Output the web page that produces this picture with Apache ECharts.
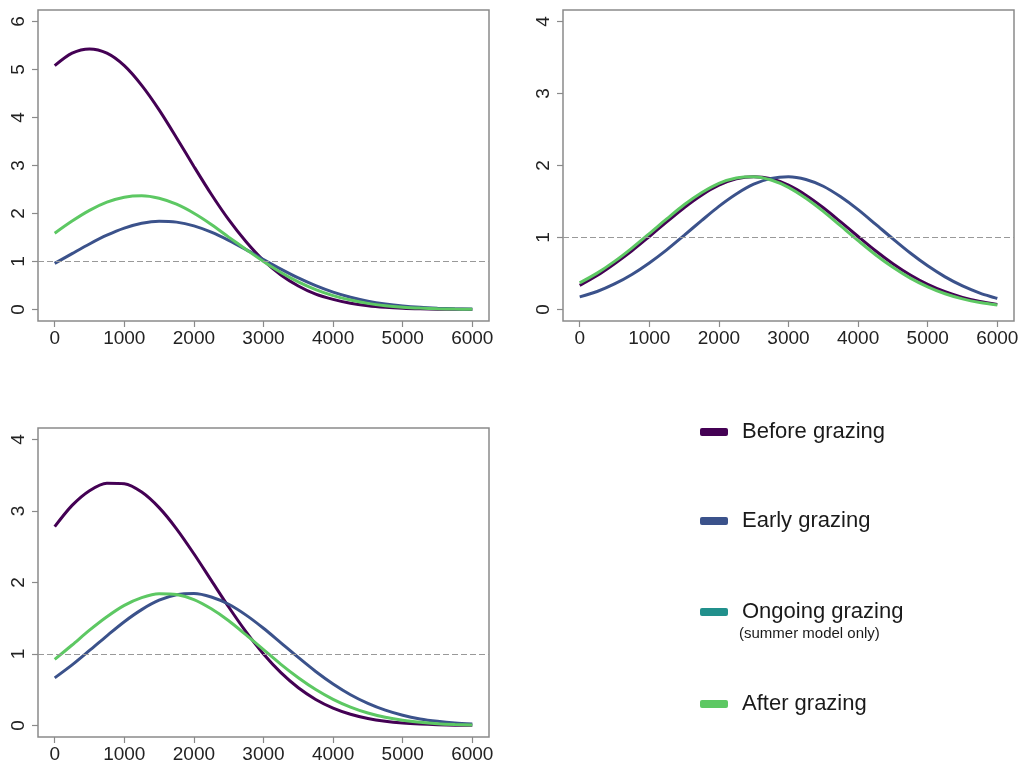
<!DOCTYPE html>
<html>
<head>
<meta charset="utf-8">
<script src="https://cdn.jsdelivr.net/npm/echarts@6/dist/echarts.min.js"></script>
<style>
html,body{margin:0;padding:0;background:#fff;}
#chart{width:1022px;height:764px;}
</style>
</head>
<body>
<div id="chart"></div>
<script>
// ---- data ----
const xValues = [0, 250, 500, 750, 1000, 1250, 1500, 1750, 2000, 2250, 2500, 2750, 3000,
                 3250, 3500, 3750, 4000, 4250, 4500, 4750, 5000, 5250, 5500, 5750, 6000];
const xTicks = [0, 1000, 2000, 3000, 4000, 5000, 6000];
const yTicksP1 = [0, 1, 2, 3, 4, 5, 6];
const yTicksP23 = [0, 1, 2, 3, 4];
const seriesNames = ['Before grazing', 'Early grazing', 'Ongoing grazing', 'After grazing'];
const seriesColors = ['#440154', '#3B528B', '#21908C', '#5DC863'];
const legendNote = '(summer model only)';
const referenceLevel = 1;

// panel 1 (top-left)
const p1Before = [5.08, 5.34, 5.43, 5.34, 5.08, 4.67, 4.16, 3.58, 2.98, 2.40, 1.87, 1.41, 1.02,
                  0.72, 0.49, 0.32, 0.21, 0.128, 0.076, 0.044, 0.024, 0.013, 0.007, 0.0035, 0.002];
const p1Early  = [0.96, 1.164, 1.365, 1.547, 1.695, 1.796, 1.839, 1.82, 1.742, 1.611, 1.441, 1.246, 1.04,
                  0.841, 0.657, 0.496, 0.362, 0.256, 0.174, 0.115, 0.073, 0.045, 0.027, 0.015, 0.009];
const p1After  = [1.59, 1.843, 2.065, 2.236, 2.34, 2.37, 2.318, 2.193, 2.005, 1.772, 1.508, 1.251, 1.0,
                  0.772, 0.576, 0.415, 0.29, 0.196, 0.127, 0.08, 0.049, 0.029, 0.016, 0.009, 0.005];
// panel 2 (top-right)
const p2Before = [0.335, 0.472, 0.636, 0.816, 1.014, 1.217, 1.414, 1.588, 1.726, 1.815, 1.845, 1.815, 1.726,
                  1.588, 1.414, 1.217, 1.014, 0.816, 0.636, 0.479, 0.349, 0.246, 0.168, 0.111, 0.071];
const p2Early  = [0.175, 0.25, 0.355, 0.487, 0.647, 0.829, 1.03, 1.234, 1.432, 1.604, 1.74, 1.821, 1.845,
                  1.806, 1.712, 1.565, 1.387, 1.185, 0.981, 0.784, 0.606, 0.453, 0.327, 0.228, 0.153];
const p2After  = [0.37, 0.505, 0.668, 0.853, 1.054, 1.258, 1.455, 1.622, 1.753, 1.827, 1.845, 1.798, 1.697,
                  1.545, 1.363, 1.16, 0.957, 0.761, 0.587, 0.436, 0.315, 0.218, 0.147, 0.096, 0.062];
// panel 3 (bottom-left)
const p3Before = [2.78, 3.078, 3.284, 3.389, 3.382, 3.265, 3.047, 2.751, 2.402, 2.029, 1.657, 1.309, 1.0,
                  0.739, 0.528, 0.365, 0.244, 0.158, 0.099, 0.06, 0.035, 0.02, 0.011, 0.006, 0.003];
const p3Early  = [0.667, 0.848, 1.05, 1.255, 1.452, 1.621, 1.752, 1.828, 1.846, 1.798, 1.696, 1.544, 1.36,
                  1.157, 0.952, 0.756, 0.581, 0.431, 0.31, 0.215, 0.144, 0.093, 0.059, 0.035, 0.021];
const p3After  = [0.925, 1.126, 1.333, 1.521, 1.68, 1.789, 1.843, 1.831, 1.761, 1.632, 1.465, 1.267, 1.061,
                  0.856, 0.669, 0.504, 0.367, 0.258, 0.175, 0.115, 0.073, 0.045, 0.026, 0.015, 0.008];

// ---- chart ----
const FONT = '"Liberation Sans", Arial, sans-serif';
const BOX = '#8a8a8a';
const pair = arr => xValues.map((x, i) => [x, arr[i]]);

const grids = [
  {left: 38, top: 10, width: 451, height: 311},
  {left: 563, top: 10, width: 451, height: 311},
  {left: 38, top: 428, width: 451, height: 309}
].map(g => Object.assign({show: true, borderColor: BOX, borderWidth: 1.5, backgroundColor: 'transparent', containLabel: false}, g));

const yRanges = [[-0.24, 6.24, yTicksP1], [-0.16, 4.16, yTicksP23], [-0.16, 4.16, yTicksP23]];
const plainNum = v => String(v);

const xAxes = grids.map((g, i) => ({
  type: 'value', gridIndex: i, min: -240, max: 6240, position: 'bottom',
  axisLine: {show: false, onZero: false},
  splitLine: {show: false},
  axisTick: {show: true, inside: false, length: 6, customValues: xTicks, lineStyle: {color: BOX, width: 1.2}},
  axisLabel: {show: true, customValues: xTicks, formatter: plainNum, margin: 8, fontSize: 19, color: '#222', fontFamily: FONT}
}));
const yAxes = grids.map((g, i) => ({
  type: 'value', gridIndex: i, min: yRanges[i][0], max: yRanges[i][1], position: 'left',
  axisLine: {show: false, onZero: false},
  splitLine: {show: false},
  axisTick: {show: true, inside: false, length: 6, customValues: yRanges[i][2], lineStyle: {color: BOX, width: 1.2}},
  axisLabel: {show: true, customValues: yRanges[i][2], formatter: plainNum, rotate: 90, margin: 10, fontSize: 19, color: '#222', fontFamily: FONT}
}));

const panels = [
  [p1Before, p1Early, p1After],
  [p2Before, p2Early, p2After],
  [p3Before, p3Early, p3After]
];
const plotted = [0, 1, 3];
const series = [];
panels.forEach((arrs, pi) => {
  arrs.forEach((arr, k) => {
    const s = {
      type: 'line', name: seriesNames[plotted[k]], xAxisIndex: pi, yAxisIndex: pi,
      data: pair(arr), smooth: 0.3, showSymbol: false, symbol: 'none',
      color: seriesColors[plotted[k]],
      lineStyle: {width: 3, color: seriesColors[plotted[k]]},
      silent: true, animation: false
    };
    if (k === 0) {
      s.markLine = {
        silent: true, symbol: 'none', label: {show: false},
        lineStyle: {color: '#999', type: [6, 3], width: 1.2},
        data: [{yAxis: referenceLevel}]
      };
    }
    series.push(s);
  });
});
// Ongoing grazing: legend-only (no data in these panels)
series.push({type: 'line', name: seriesNames[2], xAxisIndex: 0, yAxisIndex: 0, data: [], color: seriesColors[2], showSymbol: false});

const legendTops = [416, 505, 596, 688];
const legends = seriesNames.map((n, i) => ({
  data: [n], left: 695, top: legendTops[i], orient: 'vertical',
  icon: 'roundRect', itemWidth: 28, itemHeight: 8,
  selectedMode: false,
  textStyle: {fontSize: 22, color: '#1a1a1a', fontFamily: FONT, padding: [0, 0, 0, 9]}
}));

const chart = echarts.init(document.getElementById('chart'), null, {renderer: 'canvas'});
chart.setOption({
  backgroundColor: '#fff',
  animation: false,
  grid: grids,
  xAxis: xAxes,
  yAxis: yAxes,
  legend: legends,
  series: series,
  graphic: [{
    type: 'text', left: 739, top: 626,
    style: {text: legendNote, fontSize: 15, fill: '#1a1a1a', fontFamily: FONT}
  }]
});
</script>
</body>
</html>
